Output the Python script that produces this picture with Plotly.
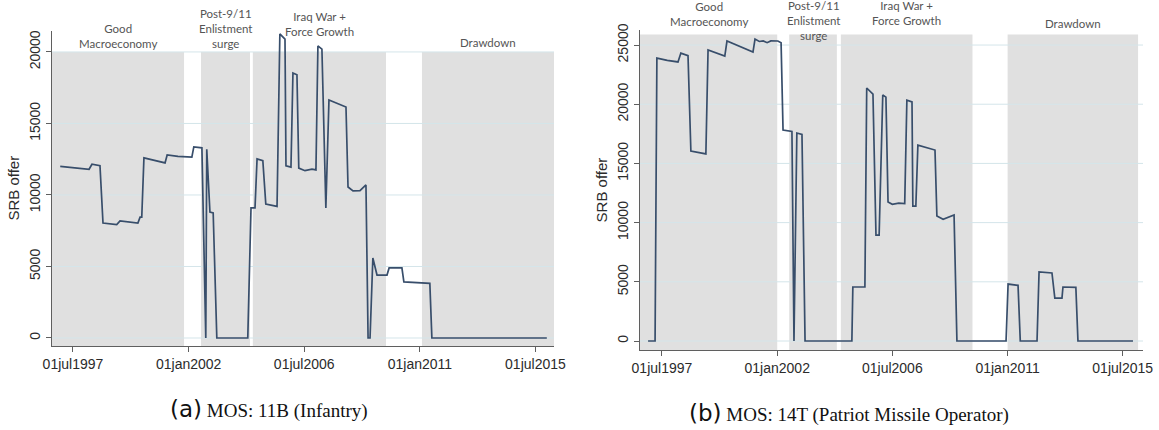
import pandas as pd
import plotly.graph_objects as go

# ---- SRB offers, MOS 11B (Infantry) ----
dates_11b = [
    "1997-01-01", "1997-07-01", "1998-02-15", "1998-03-28", "1998-07-20", "1998-09-01",
    "1999-03-15", "1999-05-01", "2000-01-10", "2000-02-10", "2000-03-05", "2000-04-05",
    "2001-01-30", "2001-03-01", "2001-08-01", "2002-02-15", "2002-03-15", "2002-07-08",
    "2002-09-01", "2002-09-15", "2002-10-30", "2002-12-15", "2003-02-05", "2004-04-20",
    "2004-06-05", "2004-08-01", "2004-08-30", "2004-11-20", "2005-01-01", "2005-06-10",
    "2005-07-20", "2005-10-01", "2005-10-15", "2005-12-25", "2006-01-22", "2006-03-20",
    "2006-04-15", "2006-07-12", "2006-10-20", "2006-12-15", "2007-01-12", "2007-03-10",
    "2007-05-05", "2007-06-18", "2007-10-10", "2008-02-15", "2008-03-15", "2008-05-25",
    "2008-09-01", "2008-11-25", "2008-12-25", "2009-01-22", "2009-03-03", "2009-05-01",
    "2009-09-20", "2009-10-20", "2010-04-20", "2010-05-18", "2011-05-22", "2011-06-20",
    "2015-12-10",
]
srb_11b = [
    12000, 11900, 11800, 12150, 12050, 8040,
    7930, 8180, 8040, 8450, 8450, 12590,
    12240, 12800, 12700, 12650, 13360, 13300,
    0, 13200, 8800, 8750, 0, 0,
    9100, 9100, 12520, 12400, 9370, 9200,
    21260, 20900, 12030, 11950, 18530, 18400,
    11880, 11700, 11800, 11750, 20420, 20200,
    9090, 16640, 16430, 16150, 10560, 10280,
    10300, 10700, 0, 0, 5590, 4400,
    4400, 4900, 4900, 3920, 3820, 0,
    0,
]

# ---- SRB offers, MOS 14T (Patriot Missile Operator) ----
dates_14t = [
    "1996-12-15", "1997-03-25", "1997-04-20", "1997-09-15", "1998-02-15", "1998-03-28",
    "1998-07-08", "1998-08-18", "1999-03-20", "1999-04-20", "1999-12-15", "2000-01-15",
    "2001-01-20", "2001-02-18", "2001-04-20", "2001-06-15", "2001-08-10", "2001-10-01",
    "2002-01-10", "2002-02-25", "2002-03-25", "2002-07-30", "2002-08-28", "2002-10-08",
    "2002-12-20", "2003-02-02", "2004-12-01", "2004-12-15", "2005-06-05", "2005-07-01",
    "2005-09-28", "2005-11-10", "2005-12-25", "2006-02-15", "2006-04-01", "2006-05-01",
    "2006-07-01", "2006-10-01", "2006-12-25", "2007-01-25", "2007-04-08", "2007-04-20",
    "2007-06-02", "2007-07-01", "2008-03-01", "2008-03-28", "2008-06-25", "2008-11-28",
    "2009-01-08", "2010-12-10", "2011-01-08", "2011-05-30", "2011-07-01", "2012-02-25",
    "2012-03-25", "2012-09-25", "2012-11-05", "2013-02-15", "2013-03-01", "2013-09-01",
    "2013-10-01", "2015-11-25",
]
srb_14t = [
    0, 0, 23900, 23700, 23570, 24320,
    24100, 16050, 15800, 24580, 24070, 25340,
    24400, 25500, 25300, 25350, 25200, 25350,
    25340, 25200, 17820, 17700, 0, 17570,
    17450, 0, 0, 4560, 4560, 21370,
    20860, 8950, 8950, 20780, 20600, 11740,
    11550, 11650, 11600, 20350, 20200, 11400,
    11400, 16550, 16130, 10560, 10280, 10640,
    0, 0, 4810, 4700, 0, 0,
    5830, 5750, 3630, 3630, 4560, 4530,
    0, 0,
]

# ---- Recruiting-environment periods (start, end) per panel ----
period_names = ["Good<br>Macroeconomy", "Post-9/11<br>Enlistment<br>surge",
                "Iraq War +<br>Force Growth", "Drawdown"]
periods_11b = [("1996-09-06", "2001-10-27"), ("2002-06-25", "2004-05-22"),
               ("2004-07-01", "2009-09-06"), ("2011-01-30", "2016-03-21")]
periods_14t = [("1996-08-22", "2002-01-01"), ("2002-06-21", "2004-05-01"),
               ("2004-06-27", "2009-08-18"), ("2011-01-01", "2016-02-06")]
shade_top_11b = 20000
shade_top_14t = 25900
# vertical lift (px) of each period label above the top of its shaded band
label_lift_11b = [16, 23, 28, 9]
label_lift_14t = [20, 14, 21, 11]

xrange_11b = ["1996-09-06", "2016-03-21"]
xrange_14t = ["1996-08-22", "2016-04-16"]
yrange_11b = [-560, 21500]
yrange_14t = [-760, 26270]

tick_dates = ["1997-07-01", "2002-01-01", "2006-07-01", "2011-01-01", "2015-07-01"]
tick_text = ["01jul1997", "01jan2002", "01jul2006", "01jan2011", "01jul2015"]
yticks_11b = [0, 5000, 10000, 15000, 20000]
yticks_14t = [0, 5000, 10000, 15000, 20000, 25000]

captions = [("(a)", "MOS: 11B (Infantry)"), ("(b)", "MOS: 14T (Patriot Missile Operator)")]

LINE = "#384e6b"
SHADE = "rgb(224,224,224)"
GRID = "rgb(212,229,234)"
AXIS = "#5f5f5f"
TICKFONT = dict(family="Liberation Sans, Arial, sans-serif", size=14, color="#2b2b2b")

fig = go.Figure()
fig.add_trace(go.Scatter(x=dates_11b, y=srb_11b, mode="lines", xaxis="x", yaxis="y",
                         line=dict(color=LINE, width=1.7), showlegend=False))
fig.add_trace(go.Scatter(x=dates_14t, y=srb_14t, mode="lines", xaxis="x2", yaxis="y2",
                         line=dict(color=LINE, width=1.7), showlegend=False))

shapes = []
annotations = []
panels = [
    ("x", "y", periods_11b, shade_top_11b, xrange_11b, yrange_11b, yticks_11b, label_lift_11b),
    ("x2", "y2", periods_14t, shade_top_14t, xrange_14t, yrange_14t, yticks_14t, label_lift_14t),
]
for (xr, yr, periods, top, xrng, yrng, yt, lifts) in panels:
    # shaded period bands with their labels
    for (p0, p1), name, lift in zip(periods, period_names, lifts):
        shapes.append(dict(type="rect", xref=xr, yref=yr, x0=p0, x1=p1, y0=yrng[0], y1=top,
                           fillcolor=SHADE, line=dict(width=0), layer="below"))
        t0, t1 = pd.Timestamp(p0), pd.Timestamp(p1)
        mid = str((t0 + (t1 - t0) / 2).date())
        annotations.append(dict(xref=xr, yref=yr, x=mid, y=top, yshift=lift, text=name,
                                showarrow=False, xanchor="center", yanchor="middle",
                                align="center",
                                font=dict(family="Lato, sans-serif", size=11.5, color="#555555")))
    # horizontal grid lines drawn over the bands
    for v in yt:
        shapes.append(dict(type="line", xref=xr, yref=yr, x0=xrng[0], x1=xrng[1], y0=v, y1=v,
                           line=dict(color=GRID, width=1), layer="below"))

cap_x = [168 / 1159, 687 / 1159]
cap_y = [1 - 409 / 430, 1 - 413 / 430]
for cx, cy, (tag, txt) in zip(cap_x, cap_y, captions):
    annotations.append(dict(
        xref="paper", yref="paper", x=cx, y=cy, xanchor="left", yanchor="middle",
        showarrow=False,
        text=f"<span style='font-family:DejaVu Sans;font-size:23px'>{tag}</span> {txt}",
        font=dict(family="Liberation Serif, serif", size=19, color="#111111")))


def xaxis_cfg(domain, rng, anchor):
    return dict(domain=domain, range=rng, type="date", anchor=anchor, automargin=False,
                tickvals=tick_dates, ticktext=tick_text, tickfont=TICKFONT,
                ticks="outside", ticklen=5, tickcolor=AXIS, showline=True, linecolor=AXIS,
                linewidth=1, showgrid=False, zeroline=False)


def yaxis_cfg(domain, rng, anchor, ticks):
    return dict(domain=domain, range=rng, anchor=anchor, automargin=False, tickvals=ticks,
                ticktext=[str(t) for t in ticks], tickangle=-90, tickfont=TICKFONT,
                ticks="outside", ticklen=5, tickcolor=AXIS, showline=True, linecolor=AXIS,
                linewidth=1, showgrid=False, zeroline=False,
                title=dict(text="SRB offer", font=dict(family="Liberation Sans, Arial, sans-serif",
                                                        size=15, color="#2b2b2b"), standoff=4))


fig.update_layout(
    width=1159, height=430, margin=dict(l=0, r=0, t=0, b=0),
    paper_bgcolor="white", plot_bgcolor="white",
    xaxis=xaxis_cfg([52 / 1159, 554 / 1159], xrange_11b, "y"),
    yaxis=yaxis_cfg([1 - 346 / 430, 1 - 30.5 / 430], yrange_11b, "x", yticks_11b),
    xaxis2=xaxis_cfg([640 / 1159, 1143 / 1159], xrange_14t, "y2"),
    yaxis2=yaxis_cfg([1 - 350 / 430, 1 - 30 / 430], yrange_14t, "x2", yticks_14t),
    shapes=shapes, annotations=annotations,
)

fig.write_html("out.html")
